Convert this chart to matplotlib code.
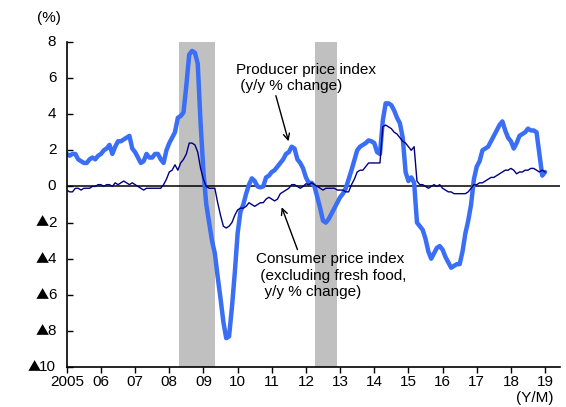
import numpy as np
import matplotlib
matplotlib.use('Agg')
import matplotlib.pyplot as plt

plt.rcParams['font.family'] = ['Liberation Sans', 'DejaVu Sans']

# Monthly y/y % change, 2005/01 - 2019/01
ppi = [1.8, 1.7, 1.8, 1.8, 1.5, 1.4, 1.3, 1.3, 1.5, 1.6, 1.5, 1.7,
       1.8, 2.0, 2.1, 2.3, 1.8, 2.2, 2.5, 2.5, 2.6, 2.7, 2.8, 2.1,
       1.9, 1.6, 1.3, 1.4, 1.8, 1.6, 1.6, 1.8, 1.8, 1.5, 1.3, 2.0,
       2.4, 2.7, 3.0, 3.8, 3.9, 4.1, 5.6, 7.3, 7.5, 7.4, 6.8, 3.5,
       0.8, -1.0, -2.0, -3.0, -3.7, -5.0, -6.2, -7.5, -8.4, -8.3, -6.7, -4.8,
       -2.6, -1.4, -1.0, -0.4, 0.1, 0.45, 0.3, 0.0, -0.05, 0.0, 0.5, 0.6,
       0.8, 0.9, 1.1, 1.3, 1.5, 1.8, 1.9, 2.2, 2.1, 1.5, 1.3, 1.0,
       0.5, 0.2, 0.2, 0.0, -0.6, -1.2, -1.9, -2.0, -1.8, -1.5, -1.2, -0.9,
       -0.6, -0.4, -0.1, 0.4, 0.9, 1.45, 2.0, 2.2, 2.3, 2.4, 2.55, 2.5,
       2.4, 1.9, 1.8, 3.65, 4.6, 4.6, 4.5, 4.2, 3.8, 3.5, 2.7, 0.8,
       0.3, 0.5, 0.2, -2.0, -2.2, -2.4, -2.9, -3.6, -4.0, -3.7, -3.4, -3.3,
       -3.5, -3.9, -4.2, -4.5, -4.4, -4.3, -4.3, -3.6, -2.6, -1.9, -1.0, 0.4,
       1.1, 1.4, 2.0, 2.1, 2.2, 2.5, 2.8, 3.1, 3.4, 3.6, 3.1, 2.7,
       2.5, 2.1, 2.4, 2.8, 2.9, 3.0, 3.2, 3.1, 3.1, 3.0, 1.8, 0.6,
       0.8]

cpi = [-0.2, -0.3, -0.3, -0.1, -0.1, -0.2, -0.1, -0.1, -0.1, 0.0, 0.0, 0.1,
       0.1, 0.0, 0.1, 0.1, 0.0, 0.2, 0.1, 0.2, 0.3, 0.2, 0.1, 0.2,
       0.1, 0.0, -0.1, -0.2, -0.1, -0.1, -0.1, -0.1, -0.1, -0.1, 0.1, 0.4,
       0.8, 0.9, 1.2, 0.9, 1.3, 1.5, 1.8, 2.4, 2.4, 2.3, 1.9, 1.0,
       0.4, 0.0, -0.1, -0.1, -0.1, -0.9, -1.6, -2.2, -2.3, -2.2, -2.0, -1.6,
       -1.3, -1.2, -1.2, -1.1, -0.9, -1.0, -1.1, -1.0, -0.9, -0.9, -0.7, -0.6,
       -0.7, -0.8, -0.7, -0.4, -0.3, -0.2, -0.1, 0.1, 0.1, 0.0, -0.1, 0.0,
       0.15, 0.1, 0.2, 0.1, 0.0, -0.1, -0.2, -0.1, -0.1, -0.1, -0.1, -0.2,
       -0.2, -0.2, -0.3, -0.3, 0.1, 0.4, 0.8, 0.9, 0.9, 1.1, 1.3, 1.3,
       1.3, 1.3, 1.3, 3.3, 3.4, 3.3, 3.2, 3.0, 2.9, 2.7, 2.5, 2.4,
       2.2, 2.0, 2.2, 0.3, 0.1, 0.1, 0.0, -0.1, 0.0, 0.1, 0.0, 0.1,
       -0.1, -0.2, -0.3, -0.3, -0.4, -0.4, -0.4, -0.4, -0.4, -0.3, -0.1, 0.1,
       0.1, 0.2, 0.2, 0.3, 0.4, 0.5, 0.5, 0.6, 0.7, 0.8, 0.9, 0.9,
       1.0, 0.9, 0.7, 0.8, 0.8, 0.9, 0.9, 1.0, 1.0, 0.9, 0.8, 0.9,
       0.8]

recessions = [(2008.27, 2009.33), (2012.27, 2012.92)]
years = list(range(2005, 2020))
year_labels = ['2005'] + ['%02d' % (y % 100) for y in years[1:]]
yticks = list(range(-10, 9, 2))

fs = 11
t = 2005 + np.arange(len(ppi)) / 12.0

fig = plt.figure(figsize=(5.66, 4.07), dpi=100)
ax = fig.add_axes([0.118, 0.098, 0.871, 0.799])

for a, b in recessions:
    ax.axvspan(a, b, color='#c0c0c0', lw=0, zorder=0)

ax.axhline(0, color='black', lw=1.1, zorder=1)
ax.plot(t, ppi, color='#3a6ef5', lw=3.2, solid_joinstyle='round', solid_capstyle='round', zorder=2)
ax.plot(t, cpi, color='#000080', lw=1.0, zorder=3)

ax.set_xlim(2005, 2019.43)
ax.set_ylim(-10, 8)
ax.set_xticks(years)
ax.set_xticklabels(year_labels, fontsize=fs)
ax.set_yticks(yticks)
ax.set_yticklabels([])
ax.tick_params(axis='y', direction='in', length=4, width=1)
ax.tick_params(axis='x', direction='out', length=4, width=1, pad=2)

# y labels: negatives shown with a black triangle
digit_w = 0.556 * fs
for v in yticks:
    num = str(abs(v))
    ax.annotate(num, xy=(0, v), xycoords=('axes fraction', 'data'), xytext=(-7.5, 0),
                textcoords='offset points', ha='right', va='center', fontsize=fs)
    if v < 0:
        ax.annotate('\u25b2', xy=(0, v), xycoords=('axes fraction', 'data'),
                    xytext=(-7.5 - digit_w * len(num) + 1.0, -0.4), textcoords='offset points',
                    ha='right', va='center', fontsize=fs - 1.5, family=['Noto Sans CJK JP'])

ax.spines['top'].set_visible(False)
ax.spines['right'].set_visible(False)
ax.spines['left'].set_linewidth(1.2)
ax.spines['bottom'].set_linewidth(1.2)

ax.annotate('Producer price index\n (y/y % change)', xy=(2011.49, 2.5), xytext=(2009.95, 6.85),
            fontsize=fs, ha='left', va='top', linespacing=1.2,
            arrowprops=dict(arrowstyle='->', color='black', lw=1, shrinkA=0, shrinkB=0,
                            relpos=(0.28, 0.0)))
ax.annotate('Consumer price index\n (excluding fresh food,\n  y/y % change)', xy=(2011.29, -1.15),
            xytext=(2010.55, -3.65), fontsize=fs, ha='left', va='top', linespacing=1.2,
            arrowprops=dict(arrowstyle='->', color='black', lw=1, shrinkA=0, shrinkB=0,
                            relpos=(0.28, 1.0)))

fig.text(0.087, 0.957, '(%)', fontsize=fs, ha='center', va='center')
fig.text(0.945, 0.022, '(Y/M)', fontsize=fs, ha='center', va='center')

fig.savefig('out.png', dpi=100)
